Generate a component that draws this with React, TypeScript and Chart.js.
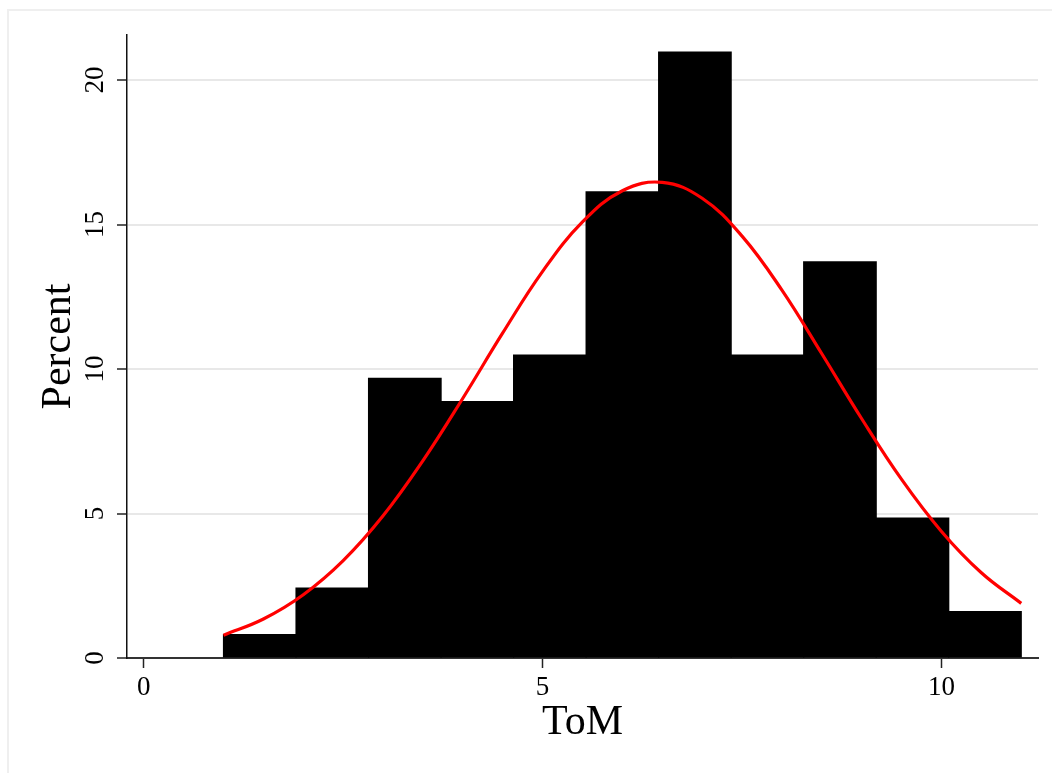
import React, { useEffect, useRef } from "react";
import { Chart, registerables } from "chart.js";

Chart.register(...registerables);

// Histogram bins (bin centres on the ToM scale) and their percentages
const binCenters = [1.4545, 2.3636, 3.2727, 4.1818, 5.0909, 6.0, 6.9091, 7.8182, 8.7273, 9.6364, 10.5455];
const binPercents = [0.81, 2.42, 9.68, 8.87, 10.48, 16.13, 20.97, 10.48, 13.71, 4.84, 1.61];

// Normal density overlay
const curveX = [1, 1.5, 2, 2.5, 3, 3.5, 4, 4.5, 5, 5.5, 6, 6.5, 7, 7.5, 8, 8.5, 9, 9.5, 10, 10.5, 11];
const curveY = [0.79, 1.35, 2.19, 3.37, 4.92, 6.83, 8.99, 11.25, 13.38, 15.09, 16.17, 16.46, 15.91, 14.6, 12.73, 10.53, 8.28, 6.18, 4.38, 2.95, 1.89];

const xTicks = [0, 5, 10];
const yTicks = [0, 5, 10, 15, 20];

const xTitle = "ToM";
const yTitle = "Percent";

const FONT = "'Liberation Serif', 'Times New Roman', serif";

const rotatedYLabels = {
  id: "rotatedYLabels",
  afterDraw(chart: any) {
    const ctx = chart.ctx;
    const y = chart.scales.y;
    ctx.save();
    ctx.fillStyle = "#000";
    ctx.font = `27px ${FONT}`;
    ctx.textAlign = "center";
    ctx.textBaseline = "middle";
    y.ticks.forEach((t: any) => {
      const py = y.getPixelForValue(t.value);
      ctx.save();
      ctx.translate(96, py);
      ctx.rotate(-Math.PI / 2);
      ctx.fillText(String(t.value), 0, 0);
      ctx.restore();
    });
    ctx.restore();
  },
};

export default function App() {
  const ref = useRef<HTMLCanvasElement | null>(null);

  useEffect(() => {
    if (!ref.current) return;
    const chart = new Chart(ref.current, {
      type: "bar",
      data: {
        datasets: [
          {
            type: "line",
            data: curveX.map((x, i) => ({ x, y: curveY[i] })),
            borderColor: "#ff0000",
            borderWidth: 3.2,
            pointRadius: 0,
            tension: 0.4,
            fill: false,
            order: 0,
          } as any,
          {
            type: "bar",
            data: binCenters.map((x, i) => ({ x, y: binPercents[i] })),
            backgroundColor: "#000000",
            borderWidth: 0,
            inflateAmount: 0.6,
            barPercentage: 1,
            categoryPercentage: 1,
            grouped: false,
            order: 1,
          } as any,
        ],
      },
      options: {
        responsive: false,
        animation: false,
        devicePixelRatio: 1,
        layout: { padding: { left: 0, top: 35, right: 14, bottom: 0 } },
        plugins: { legend: { display: false }, tooltip: { enabled: false } },
        scales: {
          x: {
            type: "linear",
            offset: false,
            min: -0.21,
            max: 11.21,
            afterFit: (s: any) => {
              s.height = 115;
            },
            afterBuildTicks: (s: any) => {
              s.ticks = xTicks.map((v) => ({ value: v }));
            },
            grid: {
              display: true,
              offset: false,
              drawOnChartArea: false,
              drawTicks: true,
              tickLength: 10,
              tickColor: "#222",
              tickWidth: 1.5,
            },
            border: { display: true, color: "#333", width: 2 },
            ticks: {
              color: "#000",
              font: { family: FONT, size: 27 },
              padding: 4,
              maxRotation: 0,
              autoSkip: false,
            },
            title: {
              display: true,
              text: xTitle,
              color: "#000",
              font: { family: FONT, size: 42, weight: "normal" },
              padding: { top: 0, bottom: 25 },
            },
          },
          y: {
            type: "linear",
            min: 0,
            max: 21.56,
            afterFit: (s: any) => {
              s.width = 127;
            },
            afterBuildTicks: (s: any) => {
              s.ticks = yTicks.map((v) => ({ value: v }));
            },
            grid: {
              display: true,
              drawOnChartArea: true,
              drawTicks: true,
              tickLength: 10,
              color: (c: any) => (c.tick && c.tick.value === 0 ? "rgba(0,0,0,0)" : "#e8e8e8"),
              lineWidth: 2,
              tickColor: "#222",
              tickWidth: 1.5,
            },
            border: { display: true, color: "#111", width: 1.5 },
            ticks: { display: false },
            title: {
              display: true,
              text: yTitle,
              color: "#000",
              font: { family: FONT, size: 42, weight: "normal" },
              padding: { top: 34, bottom: 0 },
            },
          },
        },
      },
      plugins: [rotatedYLabels],
    });
    return () => chart.destroy();
  }, []);

  return (
    <div style={{ position: "fixed", left: 0, top: 0, width: 1052, height: 773, background: "#fff" }}>
      <div
        style={{
          position: "absolute",
          left: 7,
          top: 9,
          width: 1045,
          height: 764,
          borderLeft: "2px solid #efefef",
          borderTop: "2px solid #efefef",
          boxSizing: "border-box",
        }}
      />
      <canvas
        ref={ref}
        width={1052}
        height={773}
        style={{ position: "absolute", left: 0, top: 0, width: 1052, height: 773, display: "block" }}
      />
    </div>
  );
}
